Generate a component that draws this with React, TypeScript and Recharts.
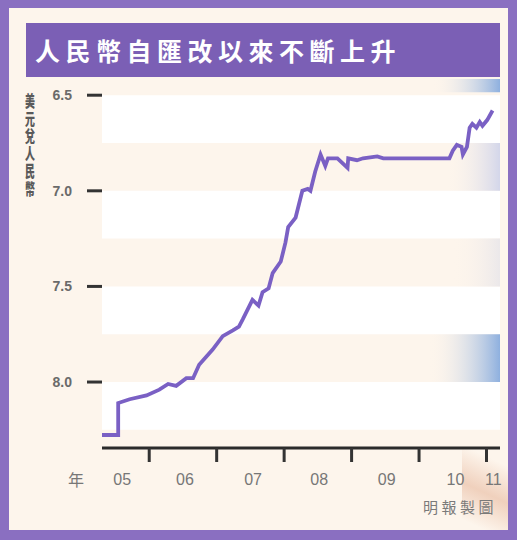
import React from 'react';
import { LineChart, Line, XAxis, YAxis, ReferenceArea } from 'recharts';

// USD/CNY rate (year as fraction)
const dates = [
  2005.29, 2005.54, 2005.54, 2005.71, 2005.96, 2006.15, 2006.28, 2006.4, 2006.55, 2006.65,
  2006.74, 2006.94, 2007.09, 2007.24, 2007.33, 2007.39, 2007.53, 2007.62, 2007.68, 2007.77,
  2007.83, 2007.95, 2008.02, 2008.06, 2008.17, 2008.27, 2008.35, 2008.39, 2008.46, 2008.54,
  2008.61, 2008.65, 2008.79, 2008.94, 2008.95, 2009.08, 2009.17, 2009.38, 2009.47, 2010.45,
  2010.5, 2010.56, 2010.63, 2010.65, 2010.71, 2010.75, 2010.79, 2010.85, 2010.9, 2010.94,
  2011.01, 2011.09,
];
const rates = [
  8.277, 8.277, 8.11, 8.09, 8.07, 8.04, 8.01, 8.02, 7.98, 7.98,
  7.91, 7.83, 7.76, 7.73, 7.71, 7.67, 7.57, 7.6, 7.53, 7.51,
  7.43, 7.37, 7.27, 7.19, 7.14, 7.0, 6.99, 7.0, 6.9, 6.81,
  6.87, 6.83, 6.83, 6.88, 6.83, 6.84, 6.83, 6.82, 6.83, 6.83,
  6.79, 6.76, 6.77, 6.81, 6.77, 6.67, 6.65, 6.67, 6.64, 6.66,
  6.63, 6.58,
];

const yearTicks = [2006, 2007, 2008, 2009, 2010, 2011];
const labelPos = [2005.6, 2006.53, 2007.54, 2008.52, 2009.52, 2010.54, 2011.1];
const labelText = ['05', '06', '07', '08', '09', '10', '11'];
const yTicks = [6.5, 7.0, 7.5, 8.0];
const whiteBands = [
  [6.5, 6.75],
  [7.0, 7.25],
  [7.5, 7.75],
  [8.0, 8.25],
];

const title = '人民幣自匯改以來不斷上升';
const yTitle = '美元兌人民幣';
const yearWord = '年';
const credit = '明報製圖';

const data = dates.map((t, i) => ({ t, v: rates[i] }));
const allXTicks = [...yearTicks, ...labelPos].sort((a, b) => a - b);

const XTick = (props: any) => {
  const { x, y, payload } = props;
  const i = labelPos.indexOf(payload.value);
  if (i >= 0) {
    return (
      <text
        x={x}
        y={y + 31}
        textAnchor="middle"
        dominantBaseline="central"
        fontSize={16}
        fontFamily="Liberation Sans, Arial, sans-serif"
        fill="#777"
      >
        {labelText[i]}
      </text>
    );
  }
  return <line x1={x} x2={x} y1={y} y2={y + 14} stroke="#333" strokeWidth={3} />;
};

export default function App() {
  return (
    <div
      style={{
        position: 'absolute',
        left: 0,
        top: 0,
        width: 517,
        height: 540,
        background: '#8a6fc1',
        overflow: 'hidden',
      }}
    >
      <div
        style={{
          position: 'absolute',
          left: 9,
          top: 8,
          width: 517 - 9 - 9,
          height: 540 - 8 - 10,
          background: '#fdf5ec',
        }}
      />
      <div
        style={{
          position: 'absolute',
          left: 462,
          top: 445,
          width: 46,
          height: 85,
          background:
            'linear-gradient(205deg, rgba(253,245,236,0) 20%, rgba(215,140,100,0.35) 55%, rgba(253,245,236,0) 90%)',
        }}
      />
      <div style={{ position: 'absolute', left: 0, top: 0 }}>
        <LineChart width={517} height={540} data={data} margin={{ top: 78, right: 17, left: 0, bottom: 32 }}>
          <defs>
            <linearGradient id="gBlue" x1="0" y1="0" x2="1" y2="0">
              <stop offset="0%" stopColor="#fdf5ec" stopOpacity={0} />
              <stop offset="100%" stopColor="#8eb0df" stopOpacity={1} />
            </linearGradient>
            <linearGradient id="gLav" x1="0" y1="0" x2="1" y2="0">
              <stop offset="0%" stopColor="#fdf5ec" stopOpacity={0} />
              <stop offset="100%" stopColor="#d3d6ea" stopOpacity={1} />
            </linearGradient>
            <linearGradient id="gGrey" x1="0" y1="0" x2="1" y2="0">
              <stop offset="0%" stopColor="#fdf5ec" stopOpacity={0} />
              <stop offset="100%" stopColor="#ebe8ea" stopOpacity={1} />
            </linearGradient>
          </defs>
          {whiteBands.map(([a, b]) => (
            <ReferenceArea key={a} y1={a} y2={b} fill="#ffffff" fillOpacity={1} stroke="none" ifOverflow="hidden" />
          ))}
          <ReferenceArea x1={2010.2} x2={2011.2} y1={6.415} y2={6.485} fill="url(#gBlue)" fillOpacity={1} stroke="none" />
          <ReferenceArea x1={2010.4} x2={2011.2} y1={6.75} y2={7.0} fill="url(#gLav)" fillOpacity={1} stroke="none" />
          <ReferenceArea x1={2010.5} x2={2011.2} y1={7.25} y2={7.5} fill="url(#gGrey)" fillOpacity={1} stroke="none" />
          <ReferenceArea x1={2010.15} x2={2011.2} y1={7.75} y2={8.0} fill="url(#gBlue)" fillOpacity={1} stroke="none" />
          <XAxis
            type="number"
            dataKey="t"
            domain={[2005.3, 2011.2]}
            ticks={allXTicks}
            interval={0}
            allowDataOverflow
            height={60}
            tickLine={false}
            tickSize={0}
            tickMargin={0}
            axisLine={{ stroke: '#2b2b2b', strokeWidth: 3 }}
            tick={<XTick />}
          />
          <YAxis
            type="number"
            domain={[6.41, 8.345]}
            reversed
            ticks={yTicks}
            interval={0}
            allowDataOverflow
            width={102}
            tickSize={15}
            tickMargin={15}
            axisLine={false}
            tickLine={{ stroke: '#333', strokeWidth: 3 }}
            tickFormatter={(v: number) => v.toFixed(1)}
            tick={{ fill: '#6a6a6a', fontSize: 14, fontWeight: 'bold', fontFamily: 'Liberation Sans, Arial, sans-serif' }}
          />
          <Line
            type="linear"
            dataKey="v"
            stroke="#7a60c4"
            strokeWidth={3.8}
            dot={false}
            isAnimationActive={false}
          />
        </LineChart>
      </div>
      <div
        style={{
          position: 'absolute',
          left: 26,
          top: 23,
          width: 474,
          height: 54,
          background: '#7b5fb5',
          color: '#ffffff',
          fontFamily: '"Noto Sans CJK TC", "Noto Sans CJK SC", sans-serif',
          fontWeight: 'bold',
          fontSize: 25,
          letterSpacing: 5.5,
          lineHeight: '54px',
          paddingLeft: 9,
          boxSizing: 'border-box',
          whiteSpace: 'nowrap',
        }}
      >
        {title}
      </div>
      <div
        style={{
          position: 'absolute',
          left: 21,
          top: 93,
          width: 18,
          writingMode: 'vertical-rl',
          fontFamily: '"Noto Sans CJK TC", sans-serif',
          fontWeight: 900,
          fontSize: 16,
          letterSpacing: 1.5,
          lineHeight: '18px',
          color: '#5a5a5a',
          transform: 'scaleX(0.62)',
          transformOrigin: 'center top',
        }}
      >
        {yTitle}
      </div>
      <div
        style={{
          position: 'absolute',
          left: 68,
          top: 468,
          fontFamily: '"Noto Sans CJK TC", sans-serif',
          fontSize: 16,
          lineHeight: '22px',
          color: '#777',
        }}
      >
        {yearWord}
      </div>
      <div
        style={{
          position: 'absolute',
          left: 423,
          top: 497,
          fontFamily: '"Noto Sans CJK TC", sans-serif',
          fontSize: 15,
          letterSpacing: 3.5,
          lineHeight: '20px',
          color: '#7a7a7a',
          whiteSpace: 'nowrap',
        }}
      >
        {credit}
      </div>
    </div>
  );
}
